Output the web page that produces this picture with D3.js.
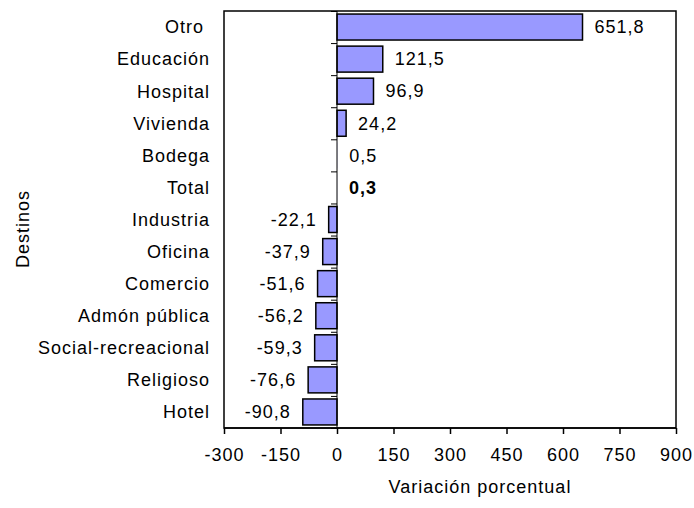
<!DOCTYPE html>
<html lang="es">
<head>
<meta charset="UTF-8">
<title>Variación porcentual por destinos</title>
<script src="https://cdn.jsdelivr.net/npm/d3@7"></script>
<style>
   body { margin: 0; background: #fff; }
   #chart text {
      font-family: "Liberation Sans", Arial, sans-serif;
      font-size: 18px;
      letter-spacing: 1px;
      fill: #000;
      white-space: pre;
   }
   .bar { fill: #9999ff; stroke: #000; stroke-width: 1.5; }
   .axisX path, .axisX line { stroke: #000; stroke-width: 1.5; }
   .zeroAxis path, .zeroAxis line { stroke: #000; stroke-width: 1; }
</style>
</head>
<body>
<div id="chart"></div>
<script>
   // data
   var categories = ["Otro ", "Educación", "Hospital", "Vivienda", "Bodega", "Total",
      "Industria", "Oficina", "Comercio", "Admón pública", "Social-recreacional",
      "Religioso", "Hotel"];
   var values = [651.8, 121.5, 96.9, 24.2, 0.5, 0.3, -22.1, -37.9, -51.6, -56.2, -59.3, -76.6, -90.8];
   var xTicks = [-300, -150, 0, 150, 300, 450, 600, 750, 900];
   var boldCategory = "Total";

   var data = categories.map(function(c, i) { return { cat: c, val: values[i] }; });

   var W = 694, H = 508;
   var margin = { top: 11, right: 18, bottom: 80, left: 224 };
   var w = W - margin.left - margin.right;
   var h = H - margin.top - margin.bottom;

   var svg = d3.select("#chart").append("svg")
      .attr("width", W)
      .attr("height", H);

   var g = svg.append("g")
      .attr("transform", "translate(" + margin.left + "," + margin.top + ")");

   var x = d3.scaleLinear().domain([-300, 900]).range([0, w]);
   var y = d3.scaleBand().domain(categories).range([0, h])
      .paddingInner(0.19).paddingOuter(0.095);

   var loc = d3.formatLocale({ decimal: ",", thousands: ".", grouping: [3], currency: ["", ""], minus: "-" });
   var fmt = loc.format(".1f");
   var fmtTick = loc.format("d");

   // plot frame
   g.append("rect")
      .attr("width", w)
      .attr("height", h)
      .attr("fill", "none")
      .attr("stroke", "#000")
      .attr("stroke-width", 1.5);

   // bars
   g.selectAll(".bar")
      .data(data)
      .enter().append("rect")
      .attr("class", "bar")
      .attr("x", function(d) { return x(Math.min(0, d.val)); })
      .attr("y", function(d) { return y(d.cat); })
      .attr("width", function(d) { return Math.abs(x(d.val) - x(0)); })
      .attr("height", y.bandwidth())
      .style("stroke-width", function(d) { return Math.abs(x(d.val) - x(0)) < 1 ? 0 : null; });

   // x axis
   g.append("g")
      .attr("class", "axisX")
      .attr("transform", "translate(0," + h + ")")
      .call(d3.axisBottom(x).tickValues(xTicks).tickSize(6).tickPadding(14).tickFormat(fmtTick))
      .call(function(a) { a.select(".domain").attr("d", "M0,0H" + w); });

   // category axis at zero (tick marks between categories)
   var idx = d3.scaleLinear().domain([0, categories.length]).range([0, h]);
   g.append("g")
      .attr("class", "zeroAxis")
      .attr("transform", "translate(" + x(0) + ",0)")
      .call(d3.axisLeft(idx).tickValues(d3.range(0, categories.length + 1)).tickSize(6).tickFormat(""))
      .call(function(a) { a.select(".domain").attr("d", "M0,0V" + h); });

   // category labels on the left
   g.append("g")
      .attr("class", "axisY")
      .call(d3.axisLeft(y).tickSize(0).tickPadding(14))
      .call(function(a) { a.select(".domain").remove(); })
      .selectAll("text")
      .attr("dy", "0.35em");

   // value labels
   g.selectAll(".label")
      .data(data)
      .enter().append("text")
      .attr("class", "label")
      .attr("x", function(d) { return d.val >= 0 ? x(d.val) + 12 : x(d.val) - 12; })
      .attr("y", function(d) { return y(d.cat) + y.bandwidth() / 2; })
      .attr("dy", "0.35em")
      .attr("text-anchor", function(d) { return d.val >= 0 ? "start" : "end"; })
      .style("font-weight", function(d) { return d.cat === boldCategory ? "bold" : "normal"; })
      .text(function(d) { return fmt(d.val); });

   // axis titles
   svg.append("text")
      .attr("x", 480)
      .attr("y", 493)
      .attr("text-anchor", "middle")
      .text("Variación porcentual");

   svg.append("text")
      .attr("transform", "translate(29,229) rotate(-90)")
      .attr("text-anchor", "middle")
      .text("Destinos");
</script>
</body>
</html>
